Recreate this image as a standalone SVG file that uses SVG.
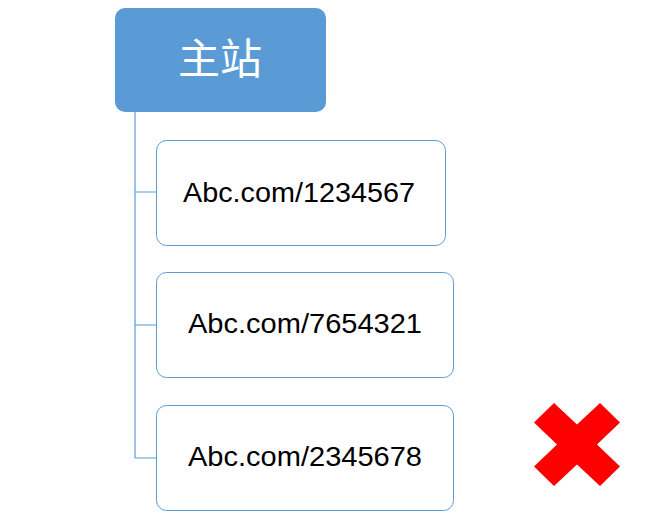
<svg xmlns="http://www.w3.org/2000/svg" width="656" height="526" viewBox="0 0 656 526">
<style>
.child{fill:#ffffff;stroke:#5B9BD5;stroke-width:1}
.lbl{font-family:"Liberation Sans",Arial,sans-serif;font-size:28px;fill:#000000;text-anchor:middle}
.conn{fill:none;stroke:#5B9BD5;stroke-width:1.2}
</style>
<rect width="656" height="526" fill="#ffffff"/>
<g id="connectors">
<path class="conn" d="M135,112 V458 M135,192 H156 M135,325 H156 M135,458 H156"/>
</g>
<g id="root">
<rect x="115" y="8" width="211" height="104" rx="10" ry="10" fill="#5B9BD5"/>
<text x="220" y="74" font-family="'Noto Sans CJK SC',sans-serif" font-size="42" fill="#ffffff" text-anchor="middle">主站</text>
</g>
<g id="node1">
<rect class="child" x="156.5" y="140.5" width="289" height="105" rx="10" ry="10"/>
<text class="lbl" x="299" y="202" textLength="232" lengthAdjust="spacingAndGlyphs">Abc.com/1234567</text>
</g>
<g id="node2">
<rect class="child" x="156.5" y="272.5" width="297" height="105" rx="10" ry="10"/>
<text class="lbl" x="305" y="333" textLength="234" lengthAdjust="spacingAndGlyphs">Abc.com/7654321</text>
</g>
<g id="node3">
<rect class="child" x="156.5" y="405.5" width="297" height="105" rx="10" ry="10"/>
<text class="lbl" x="305" y="466" textLength="234" lengthAdjust="spacingAndGlyphs">Abc.com/2345678</text>
</g>
<g id="cross">
<polygon fill="#FF0000" transform="translate(577,444.5)" points="-43,-22 -23,-41.5 0,-20 23,-41.5 43,-22 20,0 43,22 23,41.5 0,20 -23,41.5 -43,22 -20,0"/>
</g>
</svg>
